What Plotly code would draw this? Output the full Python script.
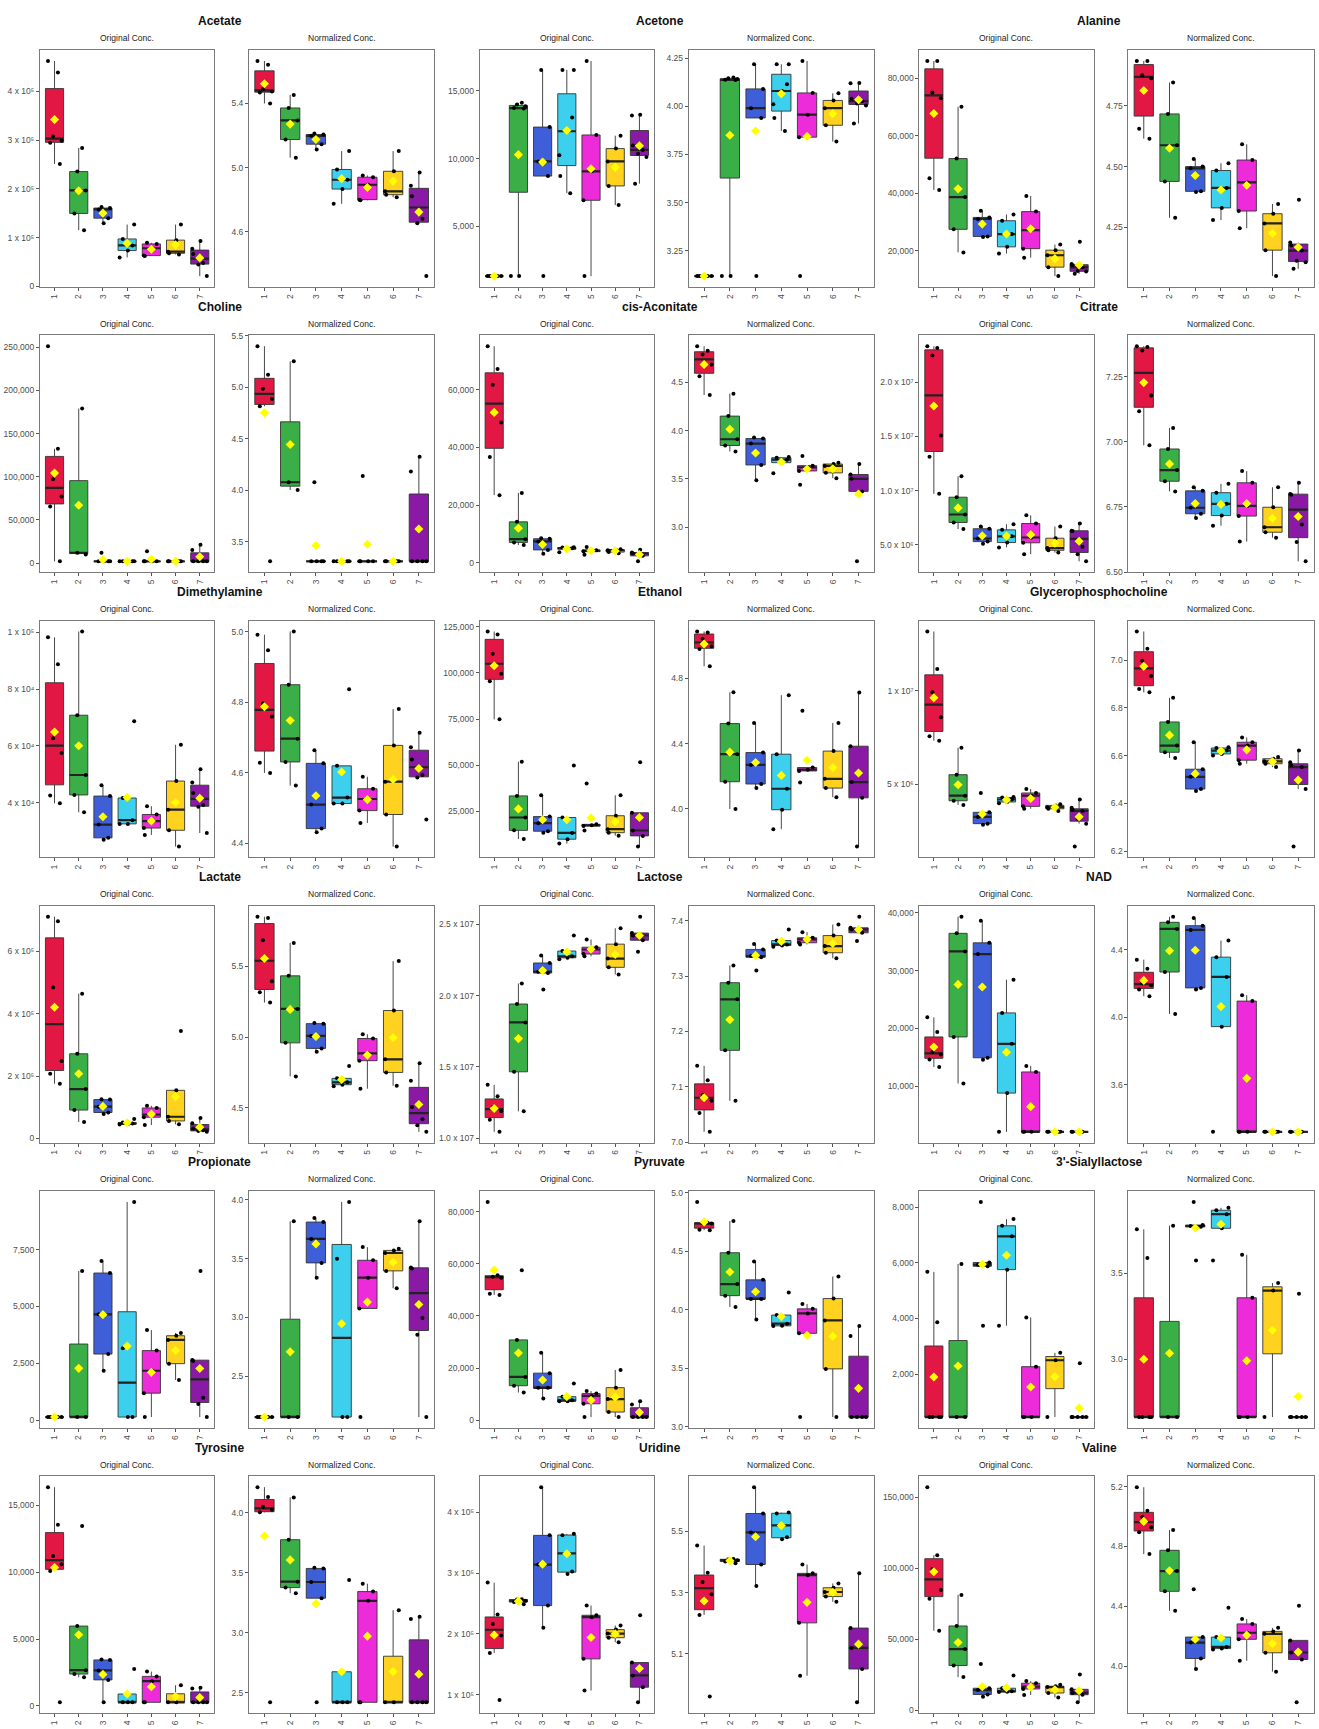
import numpy as np
import plotly.graph_objects as go

# ---------------- data (values read as log10 concentration, i.e. the
# "Normalized Conc." scale; the "Original Conc." panels show 10**value) -----
METABOLITES = ["Acetate", "Acetone", "Alanine",
               "Choline", "cis-Aconitate", "Citrate",
               "Dimethylamine", "Ethanol", "Glycerophosphocholine",
               "Lactate", "Lactose", "NAD",
               "Propionate", "Pyruvate", "3'-Sialyllactose",
               "Tyrosine", "Uridine", "Valine"]
GROUPS = ["1", "2", "3", "4", "5", "6", "7"]
GROUP_COLORS = ["#E31743", "#3BAF47", "#3F5FD8", "#3CD0EE",
                "#EE2BDA", "#FFD21F", "#8A1AA6"]

ACETATE = [[5.665, 5.642, 5.488, 5.475, 5.469, 5.40],
           [5.453, 5.372, 5.294, 5.175, 5.062],
           [5.212, 5.206, 5.198, 5.146, 5.113],
           [5.103, 4.988, 4.924, 4.866, 4.774],
           [4.951, 4.94, 4.893, 4.80, 4.796],
           [5.103, 4.977, 4.852, 4.831, 4.815],
           [4.969, 4.887, 4.821, 4.681, 4.652, 4.323]]
ACETONE = [[3.118, 3.118, 3.118, 3.118, 3.118],
           [4.15, 4.146, 4.142, 4.138, 4.137, 3.118, 3.118],
           [4.219, 4.091, 3.991, 3.94, 3.118],
           [4.219, 4.219, 4.115, 4.08, 4.011, 3.94, 3.872],
           [4.236, 4.07, 3.957, 3.84, 3.118],
           [4.068, 4.031, 3.991, 3.902, 3.817],
           [4.122, 4.12, 4.04, 4.027, 4.015, 4.005, 3.911]]
ALANINE = [[4.935, 4.935, 4.876, 4.864, 4.656, 4.615],
           [4.846, 4.717, 4.588, 4.439, 4.289],
           [4.531, 4.50, 4.493, 4.398, 4.395],
           [4.514, 4.484, 4.412, 4.33, 4.28],
           [4.592, 4.527, 4.435, 4.317, 4.246],
           [4.346, 4.306, 4.266, 4.156, 4.049],
           [4.364, 4.187, 4.175, 4.154, 4.112, 4.106, 4.079]]
CHOLINE = [[5.40, 5.122, 4.987, 4.888, 4.817, 3.311],
           [5.253, 4.079, 4.004],
           [4.08, 3.311, 3.311, 3.311, 3.311],
           [3.311, 3.311, 3.311, 3.311, 3.311],
           [4.141, 3.311, 3.311, 3.311, 3.311],
           [3.311, 3.311, 3.311, 3.311, 3.311],
           [4.327, 4.183, 3.311, 3.311, 3.311, 3.311]]
CIS_ACONITATE = [[4.876, 4.828, 4.791, 4.687, 4.565, 4.37],
                 [4.384, 4.151, 3.911, 3.846, 3.784],
                 [3.928, 3.918, 3.866, 3.644, 3.486],
                 [3.726, 3.719, 3.699, 3.668, 3.558],
                 [3.736, 3.637, 3.62, 3.582, 3.438],
                 [3.668, 3.654, 3.634, 3.562, 3.507],
                 [3.654, 3.545, 3.50, 3.37, 2.644]]
CITRATE = [[7.368, 7.365, 7.352, 7.179, 7.118, 6.987],
           [7.054, 6.973, 6.892, 6.849, 6.81],
           [6.826, 6.812, 6.747, 6.724, 6.708],
           [6.839, 6.805, 6.762, 6.717, 6.678],
           [6.888, 6.843, 6.754, 6.715, 6.617],
           [6.826, 6.749, 6.672, 6.653, 6.632],
           [6.843, 6.80, 6.797, 6.683, 6.615, 6.541]]
DIMETHYLAMINE = [[4.992, 4.948, 4.797, 4.76, 4.629, 4.60],
                 [5.001, 4.85, 4.697, 4.631, 4.564],
                 [4.664, 4.627, 4.51, 4.442, 4.432],
                 [4.837, 4.62, 4.53, 4.513, 4.513],
                 [4.589, 4.555, 4.526, 4.493, 4.458],
                 [4.781, 4.678, 4.575, 4.482, 4.391],
                 [4.714, 4.673, 4.638, 4.594, 4.587, 4.468]]
ETHANOL = [[5.088, 5.082, 5.043, 4.998, 4.98, 4.874],
           [4.715, 4.523, 4.335, 4.166, 3.998],
           [4.527, 4.345, 4.269, 4.152, 4.127],
           [4.697, 4.335, 4.123, 3.994, 3.875],
           [4.602, 4.253, 4.24, 4.232, 4.162],
           [4.527, 4.354, 4.184, 4.127, 4.071],
           [4.713, 4.384, 4.164, 4.067, 3.768]]
GLYCEROPHOSPHOCHOLINE = [[7.12, 7.048, 6.997, 6.934, 6.879, 6.865],
                         [6.842, 6.741, 6.642, 6.614, 6.59],
                         [6.656, 6.543, 6.511, 6.46, 6.452],
                         [6.635, 6.632, 6.621, 6.607, 6.60],
                         [6.676, 6.656, 6.642, 6.581, 6.566],
                         [6.594, 6.587, 6.576, 6.566, 6.552],
                         [6.621, 6.572, 6.56, 6.552, 6.498, 6.46, 6.219]]
LACTATE = [[5.852, 5.843, 5.685, 5.396, 5.318, 5.245],
           [5.667, 5.434, 5.20, 4.96, 4.723],
           [5.10, 5.096, 5.009, 4.921, 4.897],
           [4.797, 4.709, 4.681, 4.664, 4.653],
           [5.021, 4.991, 4.886, 4.834, 4.636],
           [5.538, 5.189, 4.844, 4.751, 4.657],
           [4.816, 4.692, 4.506, 4.42, 4.378, 4.331]]
LACTOSE = [[7.138, 7.112, 7.086, 7.075, 7.053, 7.019],
           [7.319, 7.288, 7.258, 7.166, 7.075],
           [7.358, 7.348, 7.336, 7.334, 7.31],
           [7.384, 7.364, 7.357, 7.355, 7.353],
           [7.379, 7.369, 7.366, 7.36, 7.357],
           [7.393, 7.373, 7.354, 7.342, 7.332],
           [7.407, 7.387, 7.384, 7.378, 7.363]]
NAD = [[4.341, 4.288, 4.202, 4.19, 4.165, 4.125],
       [4.595, 4.562, 4.523, 4.268, 4.02],
       [4.587, 4.542, 4.517, 4.174, 4.164],
       [4.454, 4.356, 4.239, 3.945, 3.323],
       [4.131, 4.096, 3.323, 3.323, 3.323],
       [3.323, 3.323, 3.323, 3.323, 3.323],
       [3.323, 3.323, 3.323, 3.323, 3.323]]
PROPIONATE = [[2.153, 2.153, 2.153, 2.153, 2.153],
              [3.817, 2.153, 2.153],
              [3.845, 3.811, 3.668, 3.464, 3.338],
              [3.982, 3.50, 2.153, 2.153],
              [3.598, 3.486, 3.338, 3.077, 2.153],
              [3.584, 3.57, 3.548, 3.396, 3.248],
              [3.817, 3.424, 3.416, 2.996, 2.853, 2.153]]
PYRUVATE = [[4.923, 4.745, 4.741, 4.738, 4.686, 4.682],
            [4.76, 4.489, 4.221, 4.122, 4.026],
            [4.413, 4.257, 4.094, 4.094, 3.919],
            [4.15, 3.956, 3.882, 3.864, 3.862],
            [4.051, 4.009, 3.97, 3.80, 3.084],
            [4.286, 4.097, 3.91, 3.496, 3.084],
            [3.862, 3.778, 3.084, 3.084, 3.084, 3.084]]
SIALYLLACTOSE = [[3.754, 3.587, 2.663, 2.663, 2.663, 2.663],
                 [3.775, 2.663, 2.663],
                 [3.913, 3.779, 3.773, 3.769, 3.573],
                 [3.879, 3.865, 3.842, 3.76, 3.573],
                 [3.606, 3.356, 2.663, 2.663, 2.663],
                 [3.442, 3.398, 2.663],
                 [3.379, 2.663, 2.663, 2.663, 2.663, 2.663]]
TYROSINE = [[4.214, 4.132, 4.05, 4.025, 4.004, 2.419],
            [4.129, 3.776, 3.426, 3.376, 3.329],
            [3.541, 3.536, 3.423, 3.288, 2.419],
            [3.439, 2.419, 2.419, 2.419],
            [3.409, 3.343, 3.266, 2.419, 2.419],
            [3.188, 2.419, 2.419],
            [3.133, 3.114, 2.419, 2.419, 2.419, 2.419]]
URIDINE = [[5.454, 5.365, 5.335, 5.295, 5.227, 4.96],
           [5.41, 5.409, 5.406, 5.402, 5.396],
           [5.645, 5.559, 5.497, 5.392, 5.322],
           [5.562, 5.559, 5.481, 5.475],
           [5.392, 5.363, 5.357, 5.201, 5.028],
           [5.33, 5.316, 5.302, 5.287, 5.27],
           [5.363, 5.184, 5.119, 5.05, 4.941]]
VALINE = [[5.196, 5.038, 4.998, 4.928, 4.895, 4.749],
          [4.91, 4.774, 4.635, 4.50, 4.37],
          [4.514, 4.194, 4.157, 4.051, 3.981],
          [4.39, 4.194, 4.128, 4.117, 4.111],
          [4.315, 4.282, 4.223, 4.179, 4.036],
          [4.256, 4.232, 4.216, 4.089, 3.963],
          [4.404, 4.172, 4.091, 4.044, 3.758]]

LOG_CONC = [ACETATE, ACETONE, ALANINE, CHOLINE, CIS_ACONITATE, CITRATE,
            DIMETHYLAMINE, ETHANOL, GLYCEROPHOSPHOCHOLINE, LACTATE, LACTOSE,
            NAD, PROPIONATE, PYRUVATE, SIALYLLACTOSE, TYROSINE, URIDINE, VALINE]

ORIG_TICKVALS = [[0, 1e5, 2e5, 3e5, 4e5],
                 [5000, 10000, 15000],
                 [20000, 40000, 60000, 80000],
                 [0, 50000, 100000, 150000, 200000, 250000],
                 [0, 20000, 40000, 60000],
                 [5e6, 1e7, 1.5e7, 2e7],
                 [4e4, 6e4, 8e4, 1e5],
                 [25000, 50000, 75000, 100000, 125000],
                 [5e6, 1e7],
                 [0, 2e5, 4e5, 6e5],
                 [1e7, 1.5e7, 2e7, 2.5e7],
                 [10000, 20000, 30000, 40000],
                 [0, 2500, 5000, 7500],
                 [0, 20000, 40000, 60000, 80000],
                 [2000, 4000, 6000, 8000],
                 [0, 5000, 10000, 15000],
                 [1e5, 2e5, 3e5, 4e5],
                 [0, 50000, 100000, 150000]]
ORIG_TICKTEXT = [["0", "1 x 10\u2075", "2 x 10\u2075", "3 x 10\u2075", "4 x 10\u2075"],
                 ["5,000", "10,000", "15,000"],
                 ["20,000", "40,000", "60,000", "80,000"],
                 ["0", "50,000", "100,000", "150,000", "200,000", "250,000"],
                 ["0", "20,000", "40,000", "60,000"],
                 ["5.0 x 10\u2076", "1.0 x 10\u2077", "1.5 x 10\u2077", "2.0 x 10\u2077"],
                 ["4 x 10\u2074", "6 x 10\u2074", "8 x 10\u2074", "1 x 10\u2075"],
                 ["25,000", "50,000", "75,000", "100,000", "125,000"],
                 ["5 x 10\u2076", "1 x 10\u2077"],
                 ["0", "2 x 10\u2075", "4 x 10\u2075", "6 x 10\u2075"],
                 ["1.0 x 107", "1.5 x 107", "2.0 x 107", "2.5 x 107"],
                 ["10,000", "20,000", "30,000", "40,000"],
                 ["0", "2,500", "5,000", "7,500"],
                 ["0", "20,000", "40,000", "60,000", "80,000"],
                 ["2,000", "4,000", "6,000", "8,000"],
                 ["0", "5,000", "10,000", "15,000"],
                 ["1 x 10\u2075", "2 x 10\u2075", "3 x 10\u2075", "4 x 10\u2075"],
                 ["0", "50,000", "100,000", "150,000"]]
NORM_TICKS = [["4.6", "5.0", "5.4"],
              ["3.25", "3.50", "3.75", "4.00", "4.25"],
              ["4.25", "4.50", "4.75"],
              ["3.5", "4.0", "4.5", "5.0", "5.5"],
              ["3.0", "3.5", "4.0", "4.5"],
              ["6.50", "6.75", "7.00", "7.25"],
              ["4.4", "4.6", "4.8", "5.0"],
              ["4.0", "4.4", "4.8"],
              ["6.2", "6.4", "6.6", "6.8", "7.0"],
              ["4.5", "5.0", "5.5"],
              ["7.0", "7.1", "7.2", "7.3", "7.4"],
              ["3.6", "4.0", "4.4"],
              ["2.5", "3.0", "3.5", "4.0"],
              ["3.0", "3.5", "4.0", "4.5", "5.0"],
              ["3.0", "3.5"],
              ["2.5", "3.0", "3.5", "4.0"],
              ["5.1", "5.3", "5.5"],
              ["4.0", "4.4", "4.8", "5.2"]]
SUBTITLES = ["Original Conc.", "Normalized Conc."]

# ---------------- layout / style constants ----------------
W, H = 1319, 1729
COL_W = W / 3.0
ROW_PITCH = 286.9
TITLE_Y0, SUB_Y0, PANEL_T0, PANEL_H = 16.5, 33.5, 45.5, 238.0
PANEL_X = [(40.0, 214.3), (249.0, 434.3)]
JITTER = [-0.27, 0.14, -0.06, 0.29, -0.18, 0.22, 0.03, -0.31]
FONT = "Liberation Sans, Arial, Helvetica, sans-serif"
BOX_W = 0.75

fig = go.Figure()
layout = dict(width=W, height=H, margin=dict(l=0, r=0, t=0, b=0),
              paper_bgcolor="white", plot_bgcolor="white",
              showlegend=False, font=dict(family=FONT), annotations=[])

for m, name in enumerate(METABOLITES):
    r, c = divmod(m, 3)
    x0 = c * COL_W
    top = PANEL_T0 + r * ROW_PITCH
    bot = top + PANEL_H
    layout["annotations"].append(dict(
        text="<b>%s</b>" % name, x=(x0 + COL_W / 2) / W, y=1 - (TITLE_Y0 + r * ROW_PITCH) / H,
        xref="paper", yref="paper", showarrow=False, xanchor="center", yanchor="middle",
        font=dict(size=12, color="#111111", family=FONT)))
    for p in range(2):
        idx = m * 2 + p + 1
        xa, ya = "x%d" % idx, "y%d" % idx
        left, right = x0 + PANEL_X[p][0], x0 + PANEL_X[p][1]
        layout["annotations"].append(dict(
            text=SUBTITLES[p], x=(left + right) / 2 / W, y=1 - (SUB_Y0 + r * ROW_PITCH) / H,
            xref="paper", yref="paper", showarrow=False, xanchor="center", yanchor="middle",
            font=dict(size=8.5, color="#222222", family=FONT)))

        groups = [np.array(g, dtype=float) for g in LOG_CONC[m]]
        if p == 0:
            groups = [10 ** g for g in groups]
        allv = np.concatenate(groups)
        lo, hi = allv.min(), allv.max()
        pad = 0.05 * (hi - lo)

        px_, py_, mx_, my_, ex_, ey_ = [], [], [], [], [], []
        for k, arr in enumerate(groups):
            pos = k + 1
            q1, med, q3 = np.percentile(arr, [25, 50, 75])
            iqr = q3 - q1
            lf = arr[arr >= q1 - 1.5 * iqr].min()
            uf = arr[arr <= q3 + 1.5 * iqr].max()
            fig.add_trace(go.Box(
                x=[pos], q1=[q1], median=[med], q3=[q3], lowerfence=[min(lf, q1)],
                upperfence=[max(uf, q3)], width=BOX_W, whiskerwidth=0, boxpoints=False,
                fillcolor=GROUP_COLORS[k], line=dict(color="#333333", width=0.9),
                xaxis=xa, yaxis=ya, hoverinfo="skip"))
            for j, v in enumerate(arr):
                px_.append(pos + JITTER[(j + k) % len(JITTER)])
                py_.append(v)
            mx_ += [pos - BOX_W / 2, pos + BOX_W / 2, None]
            my_ += [med, med, None]
            ex_.append(pos)
            ey_.append(arr.mean())
        fig.add_trace(go.Scatter(x=mx_, y=my_, mode="lines", line=dict(color="#222222", width=2.2),
                                 xaxis=xa, yaxis=ya, hoverinfo="skip"))
        fig.add_trace(go.Scatter(x=px_, y=py_, mode="markers", marker=dict(color="black", size=4),
                                 xaxis=xa, yaxis=ya, hoverinfo="skip"))
        fig.add_trace(go.Scatter(x=ex_, y=ey_, mode="markers",
                                 marker=dict(color="#FFFF00", size=7, symbol="diamond", line=dict(width=0)),
                                 xaxis=xa, yaxis=ya, hoverinfo="skip"))

        if p == 0:
            tv, tt = ORIG_TICKVALS[m], ORIG_TICKTEXT[m]
        else:
            tv, tt = [float(s) for s in NORM_TICKS[m]], NORM_TICKS[m]
        axis_common = dict(showgrid=False, zeroline=False, showline=True, mirror=True,
                           linecolor="#7a7a7a", linewidth=1, ticks="outside", ticklen=3,
                           tickcolor="#555555", tickwidth=1,
                           tickfont=dict(size=8.5, color="#4d4d4d", family=FONT))
        layout["xaxis%d" % idx] = dict(
            domain=[left / W, right / W], anchor=ya, range=[0.4, 7.6],
            tickmode="array", tickvals=list(range(1, 8)), ticktext=GROUPS,
            tickangle=-90, fixedrange=True, **axis_common)
        layout["yaxis%d" % idx] = dict(
            domain=[1 - bot / H, 1 - top / H], anchor=xa, range=[lo - pad, hi + pad],
            tickmode="array", tickvals=tv, ticktext=tt, fixedrange=True, **axis_common)

fig.update_layout(**layout)
fig.update_layout(boxmode="overlay")
fig.write_html("out.html", config={"displayModeBar": False},
               post_script="document.body.style.margin='0px';document.body.style.padding='0px';"
                           "document.body.style.overflow='hidden';")
